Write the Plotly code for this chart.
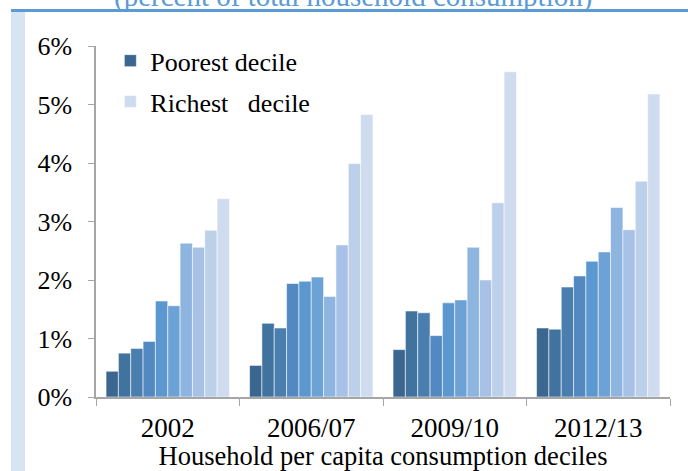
import plotly.graph_objects as go

periods = ["2002", "2006/07", "2009/10", "2012/13"]

# share of total household consumption (%) by decile, poorest -> richest
decile_values = [
    [0.44, 0.54, 0.81, 1.18],
    [0.75, 1.26, 1.47, 1.16],
    [0.83, 1.18, 1.44, 1.88],
    [0.95, 1.94, 1.05, 2.07],
    [1.64, 1.98, 1.61, 2.32],
    [1.56, 2.05, 1.66, 2.48],
    [2.63, 1.72, 2.56, 3.24],
    [2.56, 2.60, 2.00, 2.86],
    [2.85, 3.99, 3.32, 3.69],
    [3.39, 4.83, 5.56, 5.18],
]

decile_colors = ["#3A6690", "#41739F", "#4A7EAE", "#5189C0", "#5A98CF",
                 "#6DA2D6", "#8EB4E0", "#A7C2E6", "#BDD0EA", "#CFDCEF"]

legend_names = {0: "Poorest decile", 9: "Richest&nbsp;&nbsp; decile"}

FONT = "Liberation Serif"

fig = go.Figure()
for i, vals in enumerate(decile_values):
    fig.add_trace(go.Bar(
        x=periods,
        y=vals,
        name=legend_names.get(i, f"Decile {i + 1}"),
        showlegend=i in legend_names,
        legendgroup=f"g{i}",
        marker=dict(color=decile_colors[i],
                    line=dict(color="rgba(255,255,255,0.55)", width=1)),
    ))

fig.update_layout(
    width=688,
    height=471,
    barmode="group",
    bargap=0.14,
    bargroupgap=0,
    margin=dict(l=96, r=18, t=46, b=74),
    paper_bgcolor="white",
    plot_bgcolor="white",
    font=dict(family=FONT, size=26, color="black"),
    legend=dict(x=0.025, y=1.025, xanchor="left", yanchor="top",
                bgcolor="rgba(0,0,0,0)", tracegroupgap=4,
                font=dict(family=FONT, size=26, color="black")),
    xaxis=dict(
        showline=True, linecolor="#A6A6A6", linewidth=1.5,
        ticks="outside", tickson="boundaries", ticklen=7, tickcolor="#A6A6A6",
        showgrid=False, ticklabelstandoff=6, automargin=False,
        tickfont=dict(family=FONT, size=27, color="black"),
        title=dict(text="Household per capita consumption deciles", standoff=7,
                   font=dict(family=FONT, size=26.5, color="black")),
    ),
    yaxis=dict(
        range=[0, 6], dtick=1, ticksuffix="%",
        showline=True, linecolor="#A6A6A6", linewidth=1.5,
        ticks="outside", ticklen=6, tickcolor="#A6A6A6",
        showgrid=False, zeroline=False, ticklabelstandoff=11, automargin=False,
        tickfont=dict(family=FONT, size=26, color="black"),
    ),
    showlegend=True,
)

# title strip (cut off at the top of the frame)
fig.add_annotation(
    text="(percent of total household consumption)",
    xref="paper", yref="paper", x=(353 - 96) / 574, y=1.089,
    xanchor="center", yanchor="bottom", showarrow=False,
    font=dict(family=FONT, size=29, color="#5B9BD5"),
)

# blue rule across the top and pale band at the left edge
fig.add_shape(type="rect", xref="paper", yref="paper",
              x0=(11 - 96) / 574, x1=(688 - 96) / 574,
              y0=(397 - 12) / 351, y1=(397 - 9) / 351,
              fillcolor="#5B9BD5", line_width=0, layer="above")
fig.add_shape(type="rect", xref="paper", yref="paper",
              x0=(11 - 96) / 574, x1=(25 - 96) / 574,
              y0=(397 - 471) / 351, y1=(397 - 12) / 351,
              fillcolor="#D6E4F4", line_width=0, layer="below")

fig.write_html("out.html", config={"displayModeBar": False},
               post_script="document.body.style.margin='0px';")
